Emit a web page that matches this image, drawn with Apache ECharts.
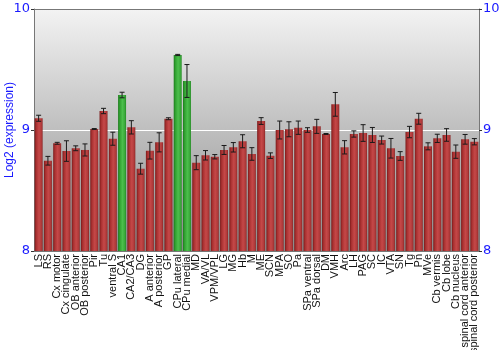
<!DOCTYPE html>
<html>
<head>
<meta charset="utf-8">
<script src="https://cdn.jsdelivr.net/npm/echarts@6/dist/echarts.min.js"></script>
<style>html,body{margin:0;padding:0;background:#fff}#c{width:500px;height:350px}</style>
</head>
<body>
<div id="c"></div>
<script>
const categories = ["LS","RS","Cx motor","Cx cingulate","OB anterior","OB posterior","Pir","Tu","ventral S","CA1","CA2/CA3","DG","A anterior","A posterior","GP","CPu lateral","CPu medial","MD","VA/VL","VPM/VPL","LG","MG","Hb","M","ME","SCN","MPA","SO","Pa","SPa ventral","SPa dorsal","DM","VMH","Arc","LH","PAG","SC","IC","VTA","SN","Tg","Pn","MVe","Cb vermis","Cb lobe","Cb nucleus","spinal cord anterior","spinal cord posterior"];
const values = [9.097,8.746,8.890,8.826,8.849,8.835,9.008,9.157,8.928,9.289,9.022,8.680,8.829,8.898,9.093,9.620,9.405,8.730,8.791,8.779,8.835,8.857,8.907,8.802,9.074,8.788,9.000,9.006,9.019,9.000,9.030,8.967,9.212,8.857,8.967,8.975,8.959,8.917,8.849,8.785,8.983,9.093,8.865,8.931,8.959,8.821,8.923,8.903];
const errors = [0.025,0.036,0.008,0.085,0.020,0.050,0.004,0.022,0.054,0.023,0.055,0.045,0.069,0.079,0.008,0.005,0.136,0.058,0.039,0.018,0.037,0.039,0.054,0.052,0.028,0.023,0.074,0.062,0.055,0.019,0.058,0.004,0.098,0.055,0.026,0.069,0.062,0.033,0.081,0.036,0.047,0.045,0.029,0.034,0.052,0.055,0.040,0.026];
const highlighted = ["CA1","CPu lateral","CPu medial"];
const yTicks = [8, 9, 10];

const G = echarts.graphic.LinearGradient;
const redFill = new G(0,0,1,0,[{offset:0,color:'#7a1a1a'},{offset:0.2,color:'#a83030'},{offset:0.55,color:'#c54848'},{offset:0.85,color:'#b03a3a'},{offset:1,color:'#8a2222'}]);
const greenFill = new G(0,0,1,0,[{offset:0,color:'#1c7a1c'},{offset:0.2,color:'#30a030'},{offset:0.55,color:'#4cbf4c'},{offset:0.85,color:'#3aa83a'},{offset:1,color:'#248a24'}]);

const barData = values.map((v,i)=>({value:v,itemStyle:{color: highlighted.includes(categories[i]) ? greenFill : redFill}}));
const errData = values.map((v,i)=>[i, v - errors[i], v + errors[i]]);

const yAxisCommon = {
  type:'value', min:yTicks[0], max:yTicks[yTicks.length-1], interval:1,
  axisLabel:{color:'#1a1aff', fontSize:13, fontFamily:'DejaVu Sans', margin:4},
  axisTick:{show:true, length:3, lineStyle:{color:'#333'}},
  axisLine:{show:true, lineStyle:{color:'#777'}},
};

const chart = echarts.init(document.getElementById('c'), null, {renderer:'canvas'});
chart.setOption({
  animation:false,
  grid:{left:34, right:21, top:9, bottom:99, show:true, borderWidth:0, containLabel:false, outerBoundsMode:'none',
    backgroundColor:new G(0,0,0,1,[{offset:0,color:'#f3f3f3'},{offset:1,color:'#8a8a8a'}])},
  xAxis:{type:'category', data:categories,
    axisLine:{show:true, lineStyle:{color:'#777'}}, axisTick:{show:false},
    axisLabel:{rotate:90, interval:0, fontSize:11, color:'#111', fontFamily:'Liberation Sans', margin:3}},
  yAxis:[
    Object.assign({}, yAxisCommon, {position:'left',
      name:'Log2 (expression)', nameLocation:'middle', nameGap:18, nameRotate:90, nameMoveOverlap:false,
      nameTextStyle:{color:'#1a1aff', fontSize:12, fontFamily:'Liberation Sans'},
      splitLine:{show:true, lineStyle:{color:['#777','#ffffff','#777'], width:1}}}),
    Object.assign({}, yAxisCommon, {position:'right', splitLine:{show:false}})
  ],
  series:[
    {type:'bar', data:barData, barCategoryGap:'14%', yAxisIndex:0},
    {type:'custom', data:errData, yAxisIndex:0, z:5,
      renderItem:function(params, api){
        const x = api.value(0);
        const lo = api.coord([x, api.value(1)]);
        const hi = api.coord([x, api.value(2)]);
        const w = 2.5;
        const st = {stroke:'#1a1a1a', lineWidth:1};
        return {type:'group', children:[
          {type:'line', shape:{x1:lo[0], y1:lo[1], x2:hi[0], y2:hi[1]}, style:st},
          {type:'line', shape:{x1:lo[0]-w, y1:lo[1], x2:lo[0]+w, y2:lo[1]}, style:st},
          {type:'line', shape:{x1:hi[0]-w, y1:hi[1], x2:hi[0]+w, y2:hi[1]}, style:st}
        ]};
      }}
  ]
});
</script>
</body>
</html>
